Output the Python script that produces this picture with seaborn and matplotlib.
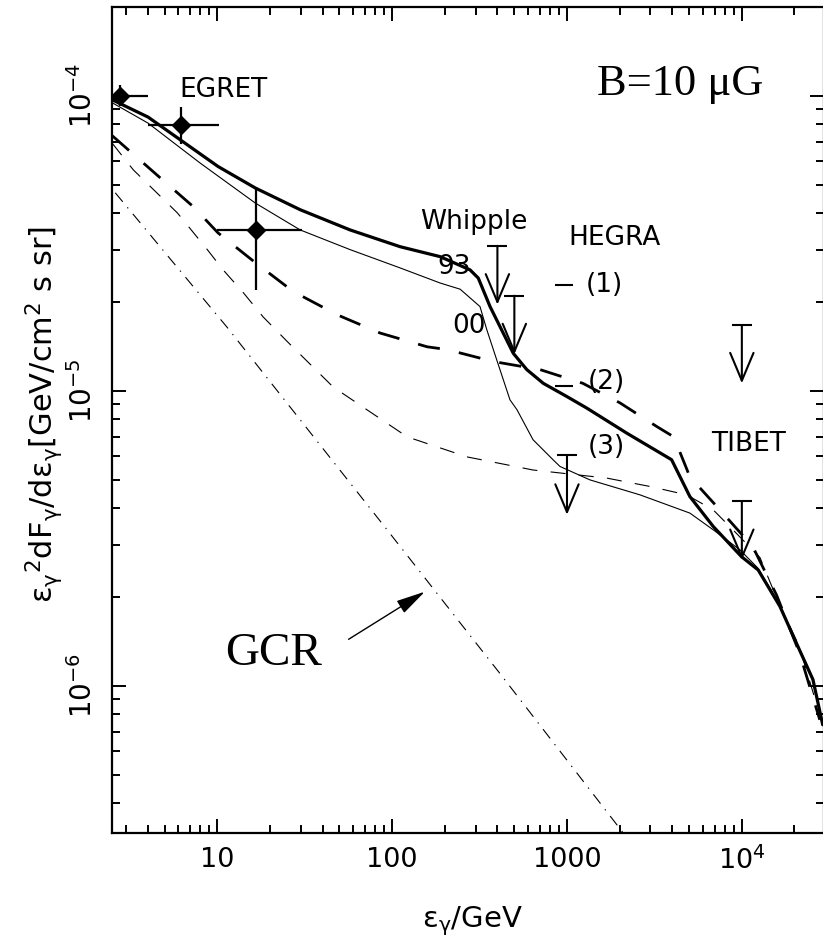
import numpy as np
import pandas as pd
import matplotlib
matplotlib.use("Agg")
import matplotlib.pyplot as plt
import seaborn as sns

sns.set_theme(style="ticks")
plt.rcParams["font.family"] = ["DejaVu Sans"]
plt.rcParams["mathtext.fontset"] = "dejavusans"
plt.rcParams["mathtext.default"] = "regular"
for key in ["text.color", "axes.labelcolor", "xtick.color", "ytick.color",
            "axes.edgecolor"]:
    plt.rcParams[key] = "black"

# ---- model spectra (E in GeV, E^2 dF/dE in GeV cm^-2 s^-1 sr^-1) ----
thick_x = [2.51, 4.02, 10.1, 16.5, 29.8, 57.5, 111, 188, 279, 311, 363, 414, 493,
           589, 732, 996, 1297, 2194, 3965, 5044, 6855, 9955, 12400, 16500, 21400,
           25500, 29000]
thick_y = [9.69e-5, 8.47e-5, 5.76e-5, 4.87e-5, 4.11e-5, 3.51e-5, 3.08e-5, 2.85e-5,
           2.57e-5, 2.41e-5, 1.93e-5, 1.65e-5, 1.34e-5, 1.18e-5, 1.06e-5, 9.57e-6,
           8.74e-6, 7.19e-6, 5.84e-6, 4.38e-6, 3.47e-6, 2.74e-6, 2.47e-6, 1.86e-6,
           1.32e-6, 1.05e-6, 7.38e-7]

thin_x = [2.51, 4.02, 8.0, 16.5, 29.8, 57.5, 111, 188, 245, 318, 348, 397, 472, 518,
          639, 832, 912, 1352, 2612, 5044, 6855, 9750, 12400, 16500, 21400, 25500, 29000]
thin_y = [9.47e-5, 8.08e-5, 5.91e-5, 4.33e-5, 3.51e-5, 3.01e-5, 2.61e-5, 2.32e-5,
          2.21e-5, 1.93e-5, 1.61e-5, 1.27e-5, 9.32e-6, 8.62e-6, 6.83e-6, 5.84e-6,
          5.54e-6, 4.99e-6, 4.44e-6, 3.85e-6, 3.38e-6, 2.89e-6, 2.50e-6, 1.88e-6,
          1.33e-6, 1.06e-6, 7.40e-7]

longdash_x = [2.51, 4.72, 7.29, 10.1, 16.5, 27.2, 48.5, 85.3, 158.5, 205.5, 379, 701,
              1233, 2009, 3258, 4080, 5044, 7480, 11560, 15800, 21400, 27900]
longdash_y = [7.32e-5, 5.27e-5, 4.21e-5, 3.43e-5, 2.72e-5, 2.17e-5, 1.81e-5, 1.57e-5,
              1.41e-5, 1.38e-5, 1.257e-5, 1.18e-5, 1.06e-5, 9.1e-6, 7.57e-6, 6.98e-6,
              5.11e-6, 3.95e-6, 2.96e-6, 2.03e-6, 1.29e-6, 7.67e-7]

shortdash_x = [2.51, 3.31, 5.91, 8.77, 10.8, 14.1, 18.3, 25.1, 46, 122, 268, 639,
               1687, 2980, 4830, 6855, 8890, 12700, 16000, 21400, 27000]
shortdash_y = [6.9e-5, 5.61e-5, 4.01e-5, 3.01e-5, 2.57e-5, 2.15e-5, 1.78e-5, 1.47e-5,
               1.03e-5, 6.98e-6, 5.97e-6, 5.39e-6, 5.06e-6, 4.74e-6, 4.44e-6, 3.95e-6,
               3.38e-6, 2.72e-6, 1.95e-6, 1.35e-6, 8.5e-7]

gcr_x = [2.61, 11.4, 87.3, 414, 2089]
gcr_y = [4.69e-5, 1.64e-5, 3.56e-6, 1.10e-6, 3.18e-7]

# ---- EGRET points ----
egret_x = [2.79, 6.17, 16.6]
egret_y = [1.0e-4, 7.97e-5, 3.51e-5]
egret_xlo = [2.0, 4.02, 10.0]
egret_xhi = [4.04, 10.2, 30.5]
egret_ylo = [9.2e-5, 6.87e-5, 2.19e-5]
egret_yhi = [1.09e-4, 9.16e-5, 4.83e-5]

# ---- upper limits: energy, limit value, arrow tip ----
ul_x = [400, 500, 1000, 1.0e4, 1.0e4]
ul_y = [3.1e-5, 2.1e-5, 6.04e-6, 1.67e-5, 4.22e-6]
ul_tip = [1.96e-5, 1.33e-5, 3.8e-6, 1.06e-5, 2.67e-6]

# ---- HEGRA markers ----
hegra_x = [960, 960]
hegra_y = [2.29e-5, 1.04e-5]

fig = plt.figure(figsize=(8.23, 9.48), dpi=100)
ax = fig.add_axes([112 / 823, 1 - 833 / 948, (824 - 112) / 823, (833 - 7) / 948])
ax.set_xscale("log")
ax.set_yscale("log")

curves = [
    (thick_x, thick_y, 2.3, "-"),
    (thin_x, thin_y, 0.8, "-"),
    (longdash_x, longdash_y, 2.0, (0, (8.0, 7.0))),
    (shortdash_x, shortdash_y, 0.8, (0, (13.5, 12.0))),
    (gcr_x, gcr_y, 0.8, (0, (10.5, 6.5, 1.2, 6.5))),
]
for cx, cy, lw, ls in curves:
    df = pd.DataFrame({"E": cx, "F": cy})
    sns.lineplot(data=df, x="E", y="F", ax=ax, color="black", lw=lw,
                 linestyle=ls, sort=False, estimator=None)

# EGRET data
ex = np.array(egret_x)
ey = np.array(egret_y)
ax.errorbar(ex, ey,
            xerr=[ex - np.array(egret_xlo), np.array(egret_xhi) - ex],
            yerr=[ey - np.array(egret_ylo), np.array(egret_yhi) - ey],
            fmt="D", ms=9, color="black", elinewidth=1.6, capsize=0, zorder=5)

# upper limits
for x, y, t in zip(ul_x, ul_y, ul_tip):
    ax.annotate("", xy=(x, t), xytext=(x, y),
                arrowprops=dict(arrowstyle="->,head_length=1.0,head_width=0.42",
                                lw=1.5, color="black", shrinkA=0, shrinkB=0,
                                mutation_scale=20))
    ax.plot([x], [y], marker="_", ms=14, mew=1.5, color="black")

ax.plot(hegra_x, hegra_y, ls="none", marker="_", ms=13, mew=1.5, color="black")

# axis limits, ticks
ax.set_xlim(2.5, 2.95e4)
ax.set_ylim(3.17e-7, 2.0e-4)
ax.set_xticks([10, 100, 1000, 1e4])
ax.set_xticklabels(["10", "100", "1000", r"$10^4$"])
ax.set_yticks([1e-6, 1e-5, 1e-4])
ax.set_yticklabels([r"$10^{-6}$", r"$10^{-5}$", r"$10^{-4}$"])
ax.xaxis.set_minor_locator(matplotlib.ticker.LogLocator(base=10, subs=np.arange(2, 10), numticks=20))
ax.yaxis.set_minor_locator(matplotlib.ticker.LogLocator(base=10, subs=np.arange(2, 10), numticks=20))
ax.xaxis.set_minor_formatter(matplotlib.ticker.NullFormatter())
ax.yaxis.set_minor_formatter(matplotlib.ticker.NullFormatter())
ax.tick_params(which="both", direction="in", top=True, right=True, color="black",
               width=1.4)
ax.tick_params(which="major", length=10)
ax.tick_params(which="minor", length=5.5)
ax.tick_params(axis="x", labelsize=19.5, pad=10)
ax.tick_params(axis="y", labelsize=20, pad=10, labelrotation=90)
for lab in ax.get_yticklabels():
    lab.set_verticalalignment("center")
for sp in ax.spines.values():
    sp.set_linewidth(1.6)
    sp.set_color("black")

ax.set_xlabel(r"$\epsilon_\gamma$/GeV", fontsize=21)
ax.xaxis.set_label_coords(0.506, -0.087)
ax.xaxis.label.set_verticalalignment("top")
ax.set_ylabel(r"$\epsilon_\gamma{}^2dF_\gamma/d\epsilon_\gamma$[GeV/cm$^2$ s sr]",
              fontsize=22)
ax.yaxis.set_label_coords(-0.066, 0.507)

# annotations
tf = ax.transAxes
ax.text(0.0942, 0.891, "EGRET", transform=tf, fontsize=19)
ax.text(0.433, 0.7308, "Whipple", transform=tf, fontsize=19)
ax.text(0.6413, 0.7119, "HEGRA", transform=tf, fontsize=19)
ax.text(0.4571, 0.6768, "93", transform=tf, fontsize=19)
ax.text(0.4782, 0.6053, "00", transform=tf, fontsize=19)
ax.text(0.6653, 0.6634, "(1)", transform=tf, fontsize=19, va="center")
ax.text(0.6677, 0.5456, "(2)", transform=tf, fontsize=19, va="center")
ax.text(0.6677, 0.467, "(3)", transform=tf, fontsize=19, va="center")
ax.text(0.841, 0.4628, "TIBET", transform=tf, fontsize=19)
ax.text(0.6817, 0.8935, "B=10 μG", transform=tf, fontsize=32,
        family="Liberation Serif")
ax.text(0.1589, 0.2034, "GCR", transform=tf, fontsize=34,
        family="Liberation Serif")
ax.annotate("", xy=(0.4393, 0.2921), xytext=(0.3323, 0.2345),
            xycoords=tf, textcoords=tf,
            arrowprops=dict(arrowstyle="-|>,head_length=0.9,head_width=0.22",
                            lw=1.0, color="black", shrinkA=0, shrinkB=0,
                            mutation_scale=20))

fig.savefig("out.png", dpi=100, facecolor="white")
